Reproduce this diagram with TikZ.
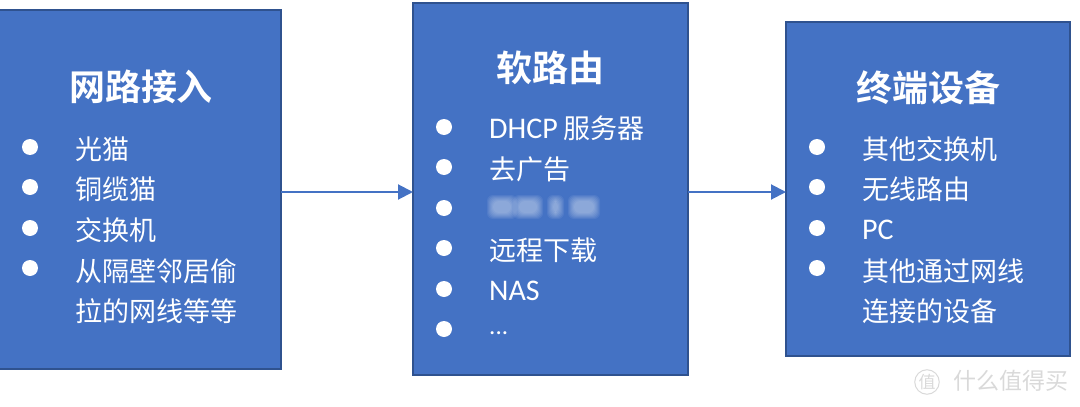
\documentclass[tikz,border=0pt]{standalone}
\usepackage{fontspec}
\setmainfont{Noto Sans CJK SC}
\newfontfamily\cjkbold{Noto Sans CJK SC Bold}
\newfontfamily\latinf{Carlito}
\usetikzlibrary{arrows.meta}
\definecolor{boxfill}{HTML}{4472C4}
\definecolor{boxline}{HTML}{2F528F}
\definecolor{wm}{HTML}{D9D9D9}
\tikzset{
  x=1pt,y=-1pt,
  panel/.style={draw=boxline,line width=2pt,fill=boxfill,minimum width=0pt,inner sep=0pt},
  heading/.style={text=white,font=\fontsize{36}{38}\selectfont\cjkbold,inner sep=0pt},
  item/.style={text=white,font=\fontsize{27}{30}\selectfont,anchor=west,inner sep=0pt},
  latinitem/.style={item,font=\fontsize{30}{30}\selectfont\latinf},
  dotmark/.style={circle,fill=white,minimum size=16pt,inner sep=0pt},
  flow/.style={draw=boxfill,line width=2pt,-{Triangle[length=15pt,width=15pt]}},
  smudge/.style={fill=white,opacity=0.07,rounded corners=6pt},
  wmtext/.style={text=wm,font=\fontsize{23}{25}\selectfont,inner sep=0pt,anchor=west},
}
\begin{document}
\begin{tikzpicture}
\useasboundingbox (0,0) rectangle (1080,407);
% panels
\draw[panel] (-2,10) rectangle (281,369);
\draw[panel] (413,3) rectangle (688,375);
\draw[panel] (786,22) rectangle (1070,356);
\coordinate (aout) at (281,192);
\coordinate (bin) at (413,192);
\coordinate (bout) at (688,192);
\coordinate (cin) at (786,192);
\draw[flow] (aout) -- (bin);
\draw[flow] (bout) -- (cin);
% left
\node[heading] (t1) at (141,87) {网路接入};
\node[dotmark] (d11) at (30,147) {};
\node[dotmark] (d12) at (30,187) {};
\node[dotmark] (d13) at (30,228) {};
\node[dotmark] (d14) at (30,268) {};
\node[item] (i11) at (75,149) {光猫};
\node[item] (i12) at (75,189) {铜缆猫};
\node[item] (i13) at (75,230) {交换机};
\node[item] (i14) at (75,271) {从隔壁邻居偷};
\node[item] (i15) at (75,311) {拉的网线等等};
% middle
\node[heading] (t2) at (550,68) {软路由};
\node[dotmark] (d21) at (444,127) {};
\node[dotmark] (d22) at (444,167) {};
\node[dotmark] (d23) at (444,208) {};
\node[dotmark] (d24) at (444,248) {};
\node[dotmark] (d25) at (444,289) {};
\node[dotmark] (d26) at (444,329) {};
\node[item] (i21) at (489,128) {{\fontsize{30}{30}\selectfont\latinf DHCP} 服务器};
\node[item] (i22) at (489,169) {去广告};
\foreach \sx/\sw in {493/18,519/18,553/5,574/20}{
  \foreach \g in {0,1,2,3,4,5,6}{
    \fill[smudge] (\sx-\g,201-\g) rectangle (\sx+\sw+\g,213+\g);
  }
}
\node[item] (i24) at (489,250) {远程下载};
\node[latinitem] (i25) at (489,291) {NAS};
\node[latinitem,font=\fontsize{25}{25}\selectfont\latinf] (i26) at (489,333) {...};
% right
\node[heading] (t3) at (928,88) {终端设备};
\node[dotmark] (d31) at (817,147) {};
\node[dotmark] (d32) at (817,187) {};
\node[dotmark] (d33) at (817,228) {};
\node[dotmark] (d34) at (817,268) {};
\node[item] (i31) at (862,149) {其他交换机};
\node[item] (i32) at (862,189) {无线路由};
\node[latinitem] (i33) at (862,230) {PC};
\node[item] (i34) at (862,271) {其他通过网线};
\node[item] (i35) at (862,311) {连接的设备};
% watermark
\node[circle,draw=wm,line width=1pt,text=wm,inner sep=0.5pt,font=\fontsize{17}{19}\selectfont] (w1) at (927,382) {值};
\node[wmtext] (w2) at (953,381) {什么值得买};
\end{tikzpicture}
\end{document}
